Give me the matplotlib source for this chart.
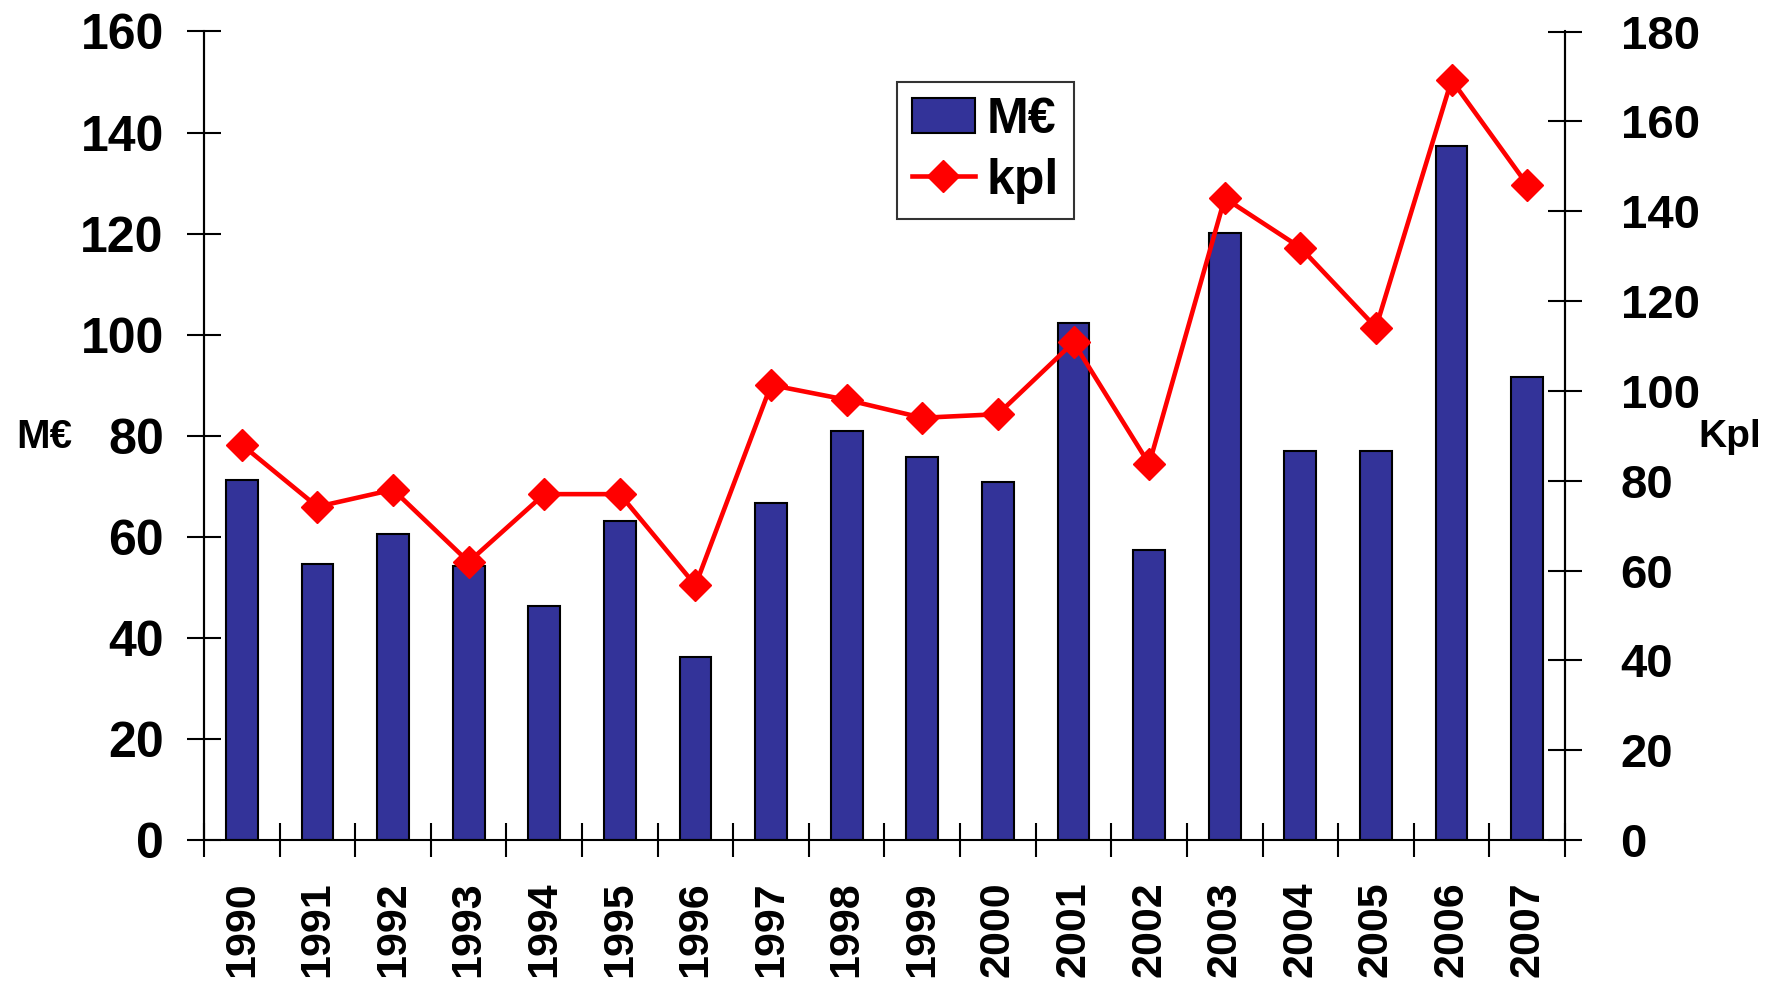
import matplotlib.pyplot as plt
import numpy as np

plt.rcParams['font.family'] = ['Liberation Sans', 'DejaVu Sans']
plt.rcParams['font.weight'] = 'bold'

# data
years = ['1990', '1991', '1992', '1993', '1994', '1995', '1996', '1997', '1998',
         '1999', '2000', '2001', '2002', '2003', '2004', '2005', '2006', '2007']
meur = [71.3, 54.6, 60.6, 54.2, 46.4, 63.1, 36.3, 66.6, 80.9,
        75.8, 70.9, 102.3, 57.3, 120.1, 76.9, 76.9, 137.3, 91.6]
kpl = [88.0, 74.2, 78.0, 61.9, 77.0, 77.0, 56.7, 101.3, 98.0,
       94.0, 94.8, 110.8, 83.7, 142.9, 131.9, 114.1, 169.2, 145.9]

W, H = 1766, 988
fig = plt.figure(figsize=(W / 100, H / 100), dpi=100)
ax = fig.add_axes([204 / W, 1 - 840 / H, (1565 - 204) / W, (840 - 31.5) / H])
ax2 = ax.twinx()

x = np.arange(len(years))
bars = ax.bar(x, meur, width=0.42, color='#333399', edgecolor='black', linewidth=1.5, zorder=2)

ax.set_xlim(-0.5, len(years) - 0.5)
ax.set_ylim(0, 160)
ax2.set_ylim(0, 180)
ax.set_yticks(np.arange(0, 161, 20))
ax2.set_yticks(np.arange(0, 181, 20))

# x ticks at category boundaries, labels at centres
ax.set_xticks(np.arange(-0.5, len(years), 1.0))
ax.set_xticklabels([])
ax.set_xticks(x, minor=True)
ax.set_xticklabels(years, minor=True, rotation=90, fontsize=31, fontweight='bold')
ax.tick_params(axis='x', which='major', direction='inout', length=24, width=1.5)
ax.tick_params(axis='x', which='minor', length=0, pad=30)

ax.tick_params(axis='y', direction='inout', length=24, width=1.5, labelsize=36, pad=17)
ax2.tick_params(axis='y', direction='inout', length=24, width=1.5, labelsize=34, pad=28)

for a in (ax, ax2):
    a.spines['top'].set_visible(False)
    for s in ('left', 'right', 'bottom'):
        a.spines[s].set_linewidth(1.5)
ax2.spines['bottom'].set_visible(False)

for lab in ax.get_yticklabels() + ax2.get_yticklabels():
    lab.set_fontweight('bold')

fig.text(16 / W, 1 - 437 / H, 'M€', fontsize=29, fontweight='bold', va='center', ha='left')
fig.text(1698 / W, 1 - 437 / H, 'Kpl', fontsize=28, fontweight='bold', va='center', ha='left')

# line drawn on the bar axes (scaled to the right axis range) so it sits above the bars
ax.set_zorder(ax2.get_zorder() + 1)
ax.patch.set_visible(False)
line, = ax.plot(x, [v * 160 / 180 for v in kpl], color='red', lw=3.3, marker='D', markersize=16,
                markeredgecolor='red', zorder=3)

leg = ax.legend([bars, line], ['M€', 'kpl'], loc='upper left',
                bbox_to_anchor=(897 / W, 1 - 82 / H), bbox_transform=fig.transFigure,
                prop={'weight': 'bold', 'size': 36}, frameon=True, fancybox=False,
                edgecolor='black', handlelength=1.25, handletextpad=0.25, borderpad=0.3,
                labelspacing=0.3, borderaxespad=0)
leg.get_frame().set_linewidth(1.5)

fig.savefig('out.png', dpi=100)
